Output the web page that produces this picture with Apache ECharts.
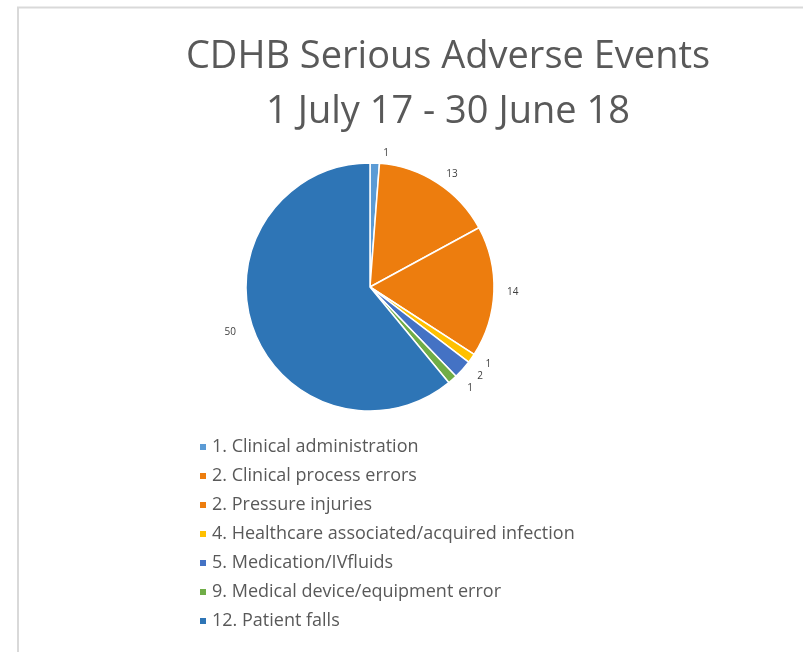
<!DOCTYPE html>
<html>
<head>
<meta charset="utf-8">
<script src="https://cdn.jsdelivr.net/npm/echarts@6/dist/echarts.min.js"></script>
<style>
  html, body { margin: 0; padding: 0; background: #fff; }
  #main { width: 803px; height: 652px; }
</style>
</head>
<body>
<div id="main"></div>
<script>
// event categories and counts, 1 July 17 - 30 June 18
const categories = [
  '1. Clinical administration',
  '2. Clinical process errors',
  '2. Pressure injuries',
  '4. Healthcare associated/acquired infection',
  '5. Medication/IVfluids',
  '9. Medical device/equipment error',
  '12. Patient falls'
];
const counts = [1, 13, 14, 1, 2, 1, 50];
const colours = ['#5B9BD5', '#ED7D0E', '#ED7D0E', '#FFC000', '#4472C4', '#70AD47', '#2E75B6'];

const chart = echarts.init(document.getElementById('main'));

const option = {
  animation: false,
  title: {
    text: 'CDHB Serious Adverse Events\n1 July 17 - 30 June 18',
    left: 443,
    textAlign: 'center',
    top: 25,
    textStyle: {
      fontFamily: 'Open Sans',
      fontWeight: 'normal',
      fontSize: 38,
      lineHeight: 55,
      color: '#595959'
    }
  },
  legend: {
    orient: 'vertical',
    left: 193,
    top: 433,
    itemWidth: 8,
    itemHeight: 8,
    itemGap: 11,
    icon: 'rect',
    textStyle: {
      fontFamily: 'Open Sans',
      fontSize: 18,
      color: '#595959'
    },
    data: categories
  },
  graphic: [{
    type: 'polyline',
    shape: { points: [[18, 660], [18, 7.5], [810, 7.5]] },
    style: { stroke: '#d9d9d9', lineWidth: 2, fill: null }
  }],
  series: [{
    type: 'pie',
    center: [370, 287],
    radius: 124,
    startAngle: 90,
    clockwise: true,
    avoidLabelOverlap: true,
    itemStyle: { borderColor: '#fff', borderWidth: 1.5 },
    label: {
      show: true,
      position: 'outside',
      formatter: '{c}',
      fontFamily: 'Open Sans',
      fontSize: 10,
      color: '#404040'
    },
    labelLine: { show: false, length: 10, length2: 3 },
    emphasis: { disabled: true },
    data: categories.map((name, i) => ({
      name: name,
      value: counts[i],
      itemStyle: { color: colours[i] }
    }))
  }]
};

chart.setOption(option);
</script>
</body>
</html>
